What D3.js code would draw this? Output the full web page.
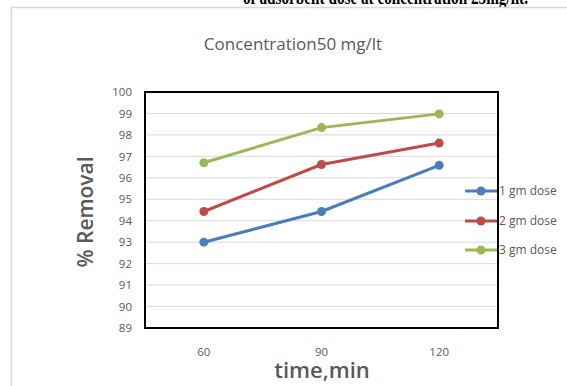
<!DOCTYPE html>
<html><head><meta charset="utf-8">
<script src="https://cdn.jsdelivr.net/npm/d3@7"></script>
<style>html,body{margin:0;padding:0;background:#fff;}svg{display:block;}</style>
</head><body>
<script>
const categories = ["60", "90", "120"];
const dose1 = [93.0, 94.43, 96.58];
const dose2 = [94.43, 96.62, 97.62];
const dose3 = [96.7, 98.34, 98.98];
const seriesNames = ["1 gm dose", "2 gm dose", "3 gm dose"];
const seriesColors = ["#4a7ebb", "#be4b48", "#98b954"];
const yTicks = [89, 90, 91, 92, 93, 94, 95, 96, 97, 98, 99, 100];
const titleText = "Concentration50 mg/lt";
const captionText = "of adsorbent dose at concentration 25mg/lit.";

const W = 567, H = 386;
const svg = d3.select("body").append("svg").attr("width", W).attr("height", H);
const font = "Open Sans, Lato, sans-serif";
const grey = "#595959";

// cut caption at top
svg.append("text").attr("x", 243).attr("y", 4).attr("font-family", "Liberation Serif, serif")
  .attr("font-weight", "bold").attr("font-size", 20).attr("fill", "#000")
  .attr("textLength", 285).attr("lengthAdjust", "spacingAndGlyphs").text(captionText);

// outer chart border
svg.append("rect").attr("x", 11.5).attr("y", 7.5).attr("width", 600).attr("height", 420)
  .attr("fill", "#fff").attr("stroke", "#d9d9d9").attr("stroke-width", 1.5);

const L = 145, R = 498, T = 92, B = 328;
const x = d3.scaleBand().domain(categories).range([L, R]);
const y = d3.scaleLinear().domain([89, 100]).range([B, T]);

// gridlines
svg.append("g").selectAll("line").data(yTicks.filter(d => d > 89 && d < 100)).join("line")
  .attr("x1", L).attr("x2", R).attr("y1", d => y(d)).attr("y2", d => y(d))
  .attr("stroke", "#d9d9d9").attr("stroke-width", 1);

// y axis labels
const yAxis = d3.axisLeft(y).tickValues(yTicks).tickSize(0).tickPadding(13);
const ga = svg.append("g").attr("transform", `translate(${L},0)`).call(yAxis);
ga.select(".domain").remove();
ga.selectAll("text").attr("font-family", font).attr("font-size", 11.5).attr("fill", grey);

// x axis labels
const xAxis = d3.axisBottom(x).tickSize(0).tickPadding(20);
const gx = svg.append("g").attr("transform", `translate(0,${B})`).call(xAxis);
gx.select(".domain").remove();
gx.selectAll("text").attr("font-family", font).attr("font-size", 11.5).attr("fill", grey);

// frame
svg.append("rect").attr("x", L).attr("y", T).attr("width", R - L).attr("height", B - T)
  .attr("fill", "none").attr("stroke", "#000").attr("stroke-width", 2);

// series
const series = [dose1, dose2, dose3];
const line = d3.line().x((d, i) => x(categories[i]) + x.bandwidth() / 2).y(d => y(d));
series.forEach((s, k) => {
  svg.append("path").datum(s).attr("d", line).attr("fill", "none")
    .attr("stroke", seriesColors[k]).attr("stroke-width", 3).attr("stroke-linejoin", "round");
  svg.append("g").selectAll("circle").data(s).join("circle")
    .attr("cx", (d, i) => x(categories[i]) + x.bandwidth() / 2).attr("cy", d => y(d))
    .attr("r", 4.5).attr("fill", seriesColors[k]);
});

// legend
const legY = [191, 221, 250];
seriesNames.forEach((n, k) => {
  const g = svg.append("g");
  g.append("line").attr("x1", 465).attr("x2", 497).attr("y1", legY[k]).attr("y2", legY[k])
    .attr("stroke", seriesColors[k]).attr("stroke-width", 3);
  g.append("circle").attr("cx", 481).attr("cy", legY[k]).attr("r", 4.5).attr("fill", seriesColors[k]);
  g.append("text").attr("x", 499).attr("y", legY[k]).attr("dy", "0.35em")
    .attr("font-family", font).attr("font-size", 12).attr("fill", grey).text(n);
});

// title
svg.append("text").attr("x", 293).attr("y", 44).attr("dy", "0.35em").attr("text-anchor", "middle")
  .attr("font-family", font).attr("font-size", 17).attr("fill", grey).text(titleText);

// axis titles
svg.append("text").attr("transform", "translate(86,212) rotate(-90)").attr("text-anchor", "middle")
  .attr("dy", "0.35em").attr("font-family", font).attr("font-size", 21).attr("font-weight", 600)
  .attr("fill", grey).text("% Removal");
svg.append("text").attr("x", 322).attr("y", 370).attr("dy", "0.35em").attr("text-anchor", "middle")
  .attr("font-family", font).attr("font-size", 22).attr("font-weight", 600)
  .attr("fill", grey).text("time,min");
</script>
</body></html>
